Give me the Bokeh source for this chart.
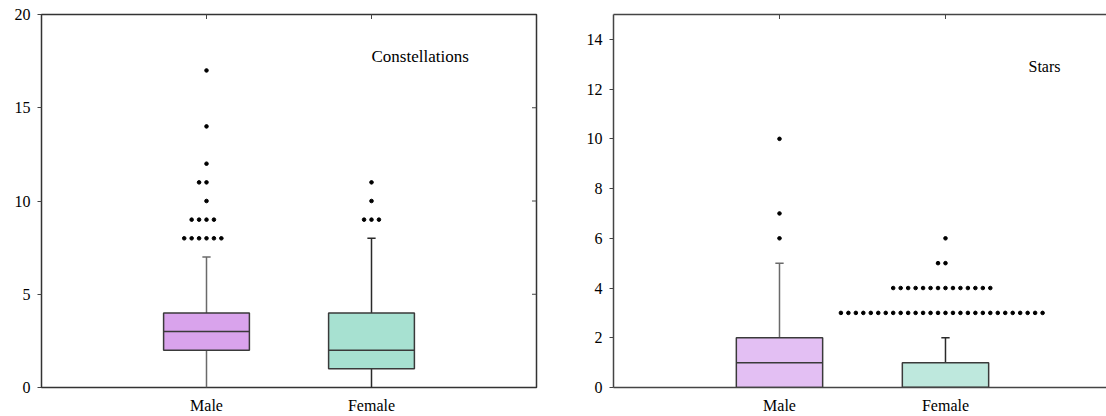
import math
from bokeh.plotting import figure
from bokeh.layouts import row
from bokeh.models import FixedTicker, LinearAxis, Range1d, ColumnDataSource, Label
from bokeh.embed import file_html
from bokeh.resources import INLINE

categories = ["Male", "Female"]

# Panel 1: Constellations
con_q1 = [2, 1]
con_median = [3, 2]
con_q3 = [4, 4]
con_low = [0, 0]
con_high = [7, 8]
con_out_values_male = [8, 9, 10, 11, 12, 14, 17]
con_out_counts_male = [6, 4, 1, 2, 1, 1, 1]
con_out_values_female = [9, 10, 11]
con_out_counts_female = [3, 1, 1]

# Panel 2: Stars
star_q1 = [0, 0]
star_median = [1, 0]
star_q3 = [2, 1]
star_low = [0, 0]
star_high = [5, 2]
star_out_values_male = [6, 7, 10]
star_out_counts_male = [1, 1, 1]
star_out_values_female = [3, 4, 5, 6]
star_out_counts_female = [28, 14, 2, 1]

con_colors = ["#D9A3EC", "#A7E1D1"]
star_colors = ["#E3BFF3", "#BEE8DD"]

FONT = "Liberation Serif"
BOX_W = 0.52
CAP_W = 0.05
DOT_STEP = 0.045


def outlier_points(xc, values, counts):
    xs, ys = [], []
    for v, n in zip(values, counts):
        for k in range(-(n // 2), n - n // 2):
            xs.append(xc + k * DOT_STEP)
            ys.append(v)
    return xs, ys


def make_panel(width, min_left, min_right, xmax, ymax, yticks, q1, med, q3, low, high,
               outs, colors, label_text, label_xy, label_size, outline, right_ticks):
    p = figure(width=width, height=416, x_range=Range1d(0, xmax), y_range=Range1d(0, ymax),
               output_backend="svg", toolbar_location=None,
               min_border_left=min_left, min_border_right=min_right,
               min_border_top=14, min_border_bottom=28)
    p.grid.visible = False
    p.background_fill_color = "white"
    p.border_fill_color = "white"
    if outline:
        p.outline_line_color = "#333333"
        p.outline_line_width = 1.5
        line_col = None
    else:
        p.outline_line_color = None
        line_col = "#444444"

    xs = [1, 2]
    src = ColumnDataSource(dict(
        x=xs, l=[x - BOX_W / 2 for x in xs], r=[x + BOX_W / 2 for x in xs],
        q1=q1, q3=q3, med=med, low=low, high=high, color=colors,
        cl=[x - CAP_W / 2 for x in xs], cr=[x + CAP_W / 2 for x in xs],
        wc=["#6a6a6a", "#2a2a2a"],
    ))
    p.segment(x0="x", y0="q3", x1="x", y1="high", source=src, line_color="wc", line_width=1.5)
    p.segment(x0="x", y0="low", x1="x", y1="q1", source=src, line_color="wc", line_width=1.5)
    p.segment(x0="cl", y0="high", x1="cr", y1="high", source=src, line_color="wc", line_width=1.5)
    p.quad(left="l", right="r", bottom="q1", top="q3", source=src, fill_color="color",
           line_color="#3a3a3a", line_width=1.5)
    p.segment(x0="l", y0="med", x1="r", y1="med", source=src, line_color="#3a3a3a", line_width=1.5)

    for xc, (vals, cnts) in zip(xs, outs):
        ox, oy = outlier_points(xc, vals, cnts)
        p.scatter(ox, oy, size=3.6, color="black", marker="circle")

    # inward tick marks on the top edge (at categories) and on the right edge
    p.scatter(x=xs, y=[ymax] * len(xs), marker="dash", angle=math.pi / 2, size=9,
              line_color="#444444", line_width=1)
    if right_ticks:
        p.scatter(x=[xmax] * len(right_ticks), y=right_ticks, marker="dash", size=9,
                  line_color="#444444", line_width=1)

    # bottom axis
    p.xaxis.ticker = FixedTicker(ticks=xs)
    p.xaxis.major_label_overrides = {1: categories[0], 2: categories[1]}
    p.xaxis.major_tick_line_color = None
    p.xaxis.major_tick_out = 0
    p.xaxis.major_tick_in = 0
    p.xaxis.axis_line_color = line_col
    p.xaxis.axis_line_width = 1.5
    p.xaxis.major_label_standoff = 9
    # left axis
    p.yaxis.ticker = FixedTicker(ticks=yticks)
    p.yaxis.major_tick_in = 0
    p.yaxis.major_tick_out = 4
    p.yaxis.major_tick_line_color = "#444444"
    p.yaxis.axis_line_color = line_col
    p.yaxis.axis_line_width = 1.5
    p.yaxis.major_label_standoff = 7
    p.yaxis.minor_tick_line_color = None
    for ax in p.xaxis + p.yaxis:
        ax.major_label_text_font = FONT
        ax.major_label_text_font_size = "16px"
        ax.major_label_text_color = "#000000"

    if not outline:
        top = LinearAxis(ticker=FixedTicker(ticks=[]), major_tick_line_color=None,
                         minor_tick_line_color=None, major_label_standoff=0,
                         major_tick_out=0, major_tick_in=0,
                         axis_line_color=line_col, axis_line_width=1.5)
        p.add_layout(top, "above")

    p.add_layout(Label(x=label_xy[0], y=label_xy[1], text=label_text, text_font=FONT,
                       text_font_size=label_size, text_baseline="middle", text_color="#000000"))
    return p


p1 = make_panel(575, 41, 39, 3, 20, [0, 5, 10, 15, 20],
                con_q1, con_median, con_q3, con_low, con_high,
                [(con_out_values_male, con_out_counts_male),
                 (con_out_values_female, con_out_counts_female)],
                con_colors, "Constellations", (2.0, 17.75), "17px", True, [5, 10, 15])

p2 = make_panel(531, 38, 0, 2.97, 15, [0, 2, 4, 6, 8, 10, 12, 14],
                star_q1, star_median, star_q3, star_low, star_high,
                [(star_out_values_male, star_out_counts_male),
                 (star_out_values_female, star_out_counts_female)],
                star_colors, "Stars", (2.5, 12.9), "16px", False, None)

layout = row(p1, p2)
open("out.html", "w").write(file_html(layout, INLINE))
